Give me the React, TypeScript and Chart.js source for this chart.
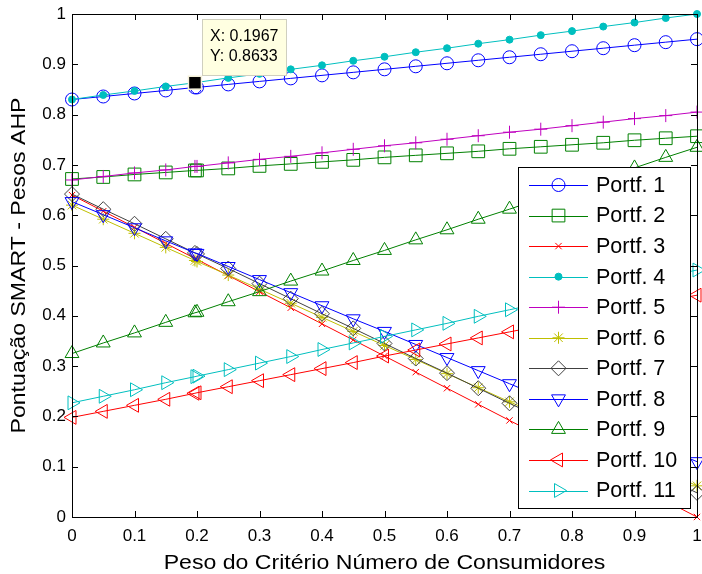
import React, { useEffect, useRef } from 'react';
import { Chart, registerables } from 'chart.js';
import { drawPoint } from 'chart.js/helpers';

Chart.register(...registerables);

// Peso do critério "Número de Consumidores" (eixo x)
const pesos = [0, 0.05, 0.1, 0.15, 0.1967, 0.2, 0.25, 0.3, 0.35, 0.4, 0.45, 0.5, 0.55, 0.6, 0.65, 0.7, 0.75, 0.8, 0.85, 0.9, 0.95, 1];

// Pontuação SMART de cada portfólio para cada peso
const portf1 = [0.830, 0.836, 0.842, 0.848, 0.854, 0.854, 0.860, 0.866, 0.872, 0.878, 0.884, 0.890, 0.896, 0.902, 0.908, 0.914, 0.920, 0.926, 0.932, 0.938, 0.944, 0.950];
const portf2 = [0.672, 0.676, 0.681, 0.685, 0.689, 0.689, 0.693, 0.698, 0.702, 0.706, 0.710, 0.715, 0.719, 0.723, 0.727, 0.732, 0.736, 0.740, 0.744, 0.749, 0.753, 0.757];
const portf3 = [0.640, 0.608, 0.576, 0.544, 0.514, 0.512, 0.480, 0.448, 0.416, 0.384, 0.352, 0.320, 0.288, 0.256, 0.224, 0.192, 0.160, 0.128, 0.096, 0.064, 0.032, 0.000];
const portf4 = [0.830, 0.839, 0.847, 0.856, 0.8633, 0.864, 0.873, 0.881, 0.890, 0.898, 0.907, 0.915, 0.924, 0.932, 0.941, 0.949, 0.958, 0.966, 0.975, 0.983, 0.992, 1.000];
const portf5 = [0.670, 0.677, 0.684, 0.690, 0.697, 0.697, 0.704, 0.711, 0.717, 0.724, 0.731, 0.738, 0.744, 0.751, 0.758, 0.765, 0.771, 0.778, 0.785, 0.792, 0.798, 0.805];
const portf6 = [0.620, 0.592, 0.564, 0.536, 0.510, 0.508, 0.481, 0.453, 0.425, 0.397, 0.369, 0.341, 0.313, 0.285, 0.257, 0.229, 0.202, 0.174, 0.146, 0.118, 0.090, 0.062];
const portf7 = [0.642, 0.612, 0.583, 0.553, 0.525, 0.523, 0.494, 0.464, 0.434, 0.404, 0.375, 0.345, 0.315, 0.286, 0.256, 0.226, 0.197, 0.167, 0.137, 0.107, 0.078, 0.048];
const portf8 = [0.627, 0.601, 0.575, 0.549, 0.525, 0.524, 0.498, 0.472, 0.446, 0.420, 0.394, 0.369, 0.343, 0.317, 0.291, 0.265, 0.239, 0.214, 0.188, 0.162, 0.136, 0.110];
const portf9 = [0.325, 0.346, 0.366, 0.387, 0.406, 0.407, 0.428, 0.448, 0.469, 0.489, 0.510, 0.530, 0.551, 0.571, 0.592, 0.612, 0.633, 0.653, 0.674, 0.694, 0.715, 0.735];
const portf10 = [0.198, 0.210, 0.222, 0.234, 0.246, 0.247, 0.259, 0.271, 0.283, 0.295, 0.307, 0.320, 0.332, 0.344, 0.356, 0.368, 0.380, 0.392, 0.405, 0.417, 0.429, 0.441];
const portf11 = [0.227, 0.240, 0.253, 0.267, 0.279, 0.280, 0.293, 0.306, 0.319, 0.333, 0.346, 0.359, 0.372, 0.385, 0.399, 0.412, 0.425, 0.438, 0.451, 0.465, 0.478, 0.491];

const nomes = ['Portf. 1', 'Portf. 2', 'Portf. 3', 'Portf. 4', 'Portf. 5', 'Portf. 6', 'Portf. 7', 'Portf. 8', 'Portf. 9', 'Portf. 10', 'Portf. 11'];
const series = [portf1, portf2, portf3, portf4, portf5, portf6, portf7, portf8, portf9, portf10, portf11];

const xTicks = [0, 0.1, 0.2, 0.3, 0.4, 0.5, 0.6, 0.7, 0.8, 0.9, 1];
const yTicks = [0, 0.1, 0.2, 0.3, 0.4, 0.5, 0.6, 0.7, 0.8, 0.9, 1];

// Cursor de dados marcado no gráfico
const cursorX = 0.1967;
const cursorY = 0.8633;

const tituloX = 'Peso do Critério Número de Consumidores';
const tituloY = 'Pontuação SMART - Pesos AHP';

type Estilo = { cor: string; forma: string; raio: number; rot: number; cheio: boolean };

const estilos: Estilo[] = [
  { cor: '#0000ff', forma: 'circle', raio: 6.5, rot: 0, cheio: false },
  { cor: '#008000', forma: 'rect', raio: 9, rot: 0, cheio: false },
  { cor: '#ff0000', forma: 'crossRot', raio: 4.5, rot: 0, cheio: false },
  { cor: '#00bfbf', forma: 'circle', raio: 3.5, rot: 0, cheio: true },
  { cor: '#bf00bf', forma: 'cross', raio: 6.5, rot: 0, cheio: false },
  { cor: '#bfbf00', forma: 'star', raio: 6, rot: 0, cheio: false },
  { cor: '#404040', forma: 'rectRot', raio: 7.5, rot: 0, cheio: false },
  { cor: '#0000ff', forma: 'triangle', raio: 8, rot: 180, cheio: false },
  { cor: '#008000', forma: 'triangle', raio: 8, rot: 0, cheio: false },
  { cor: '#ff0000', forma: 'triangle', raio: 8, rot: 270, cheio: false },
  { cor: '#00bfbf', forma: 'triangle', raio: 8, rot: 90, cheio: false },
];

const FONTE = '"Liberation Sans", Arial, Helvetica, sans-serif';

function textoEsticado(ctx: CanvasRenderingContext2D, txt: string, x: number, y: number, sx: number) {
  ctx.save();
  ctx.translate(x, y);
  ctx.scale(sx, 1);
  ctx.fillText(txt, 0, 0);
  ctx.restore();
}

function marcador(ctx: CanvasRenderingContext2D, e: Estilo, x: number, y: number) {
  ctx.save();
  ctx.strokeStyle = e.cor;
  ctx.fillStyle = e.cheio ? e.cor : 'rgba(0,0,0,0)';
  ctx.lineWidth = 1;
  drawPoint(ctx, { pointStyle: e.forma as any, rotation: e.rot, radius: e.raio, borderWidth: 1 }, x, y);
  ctx.restore();
}

const moldura = {
  id: 'moldura',
  afterDraw(chart: any) {
    const { ctx, chartArea: a, scales } = chart;
    const sx = scales.x;
    const sy = scales.y;
    ctx.save();

    // caixa dos eixos com marcas para dentro
    ctx.strokeStyle = '#000';
    ctx.lineWidth = 1;
    ctx.beginPath();
    ctx.rect(Math.round(a.left) + 0.5, Math.round(a.top) + 0.5, Math.round(a.right - a.left), Math.round(a.bottom - a.top));
    const tl = 6;
    xTicks.forEach((v) => {
      const px = Math.round(sx.getPixelForValue(v)) + 0.5;
      ctx.moveTo(px, a.bottom);
      ctx.lineTo(px, a.bottom - tl);
      ctx.moveTo(px, a.top);
      ctx.lineTo(px, a.top + tl);
    });
    yTicks.forEach((v) => {
      const py = Math.round(sy.getPixelForValue(v)) + 0.5;
      ctx.moveTo(a.left, py);
      ctx.lineTo(a.left + tl, py);
      ctx.moveTo(a.right, py);
      ctx.lineTo(a.right - tl, py);
    });
    ctx.stroke();

    // títulos dos eixos
    ctx.fillStyle = '#000';
    ctx.font = `21px ${FONTE}`;
    ctx.textAlign = 'center';
    ctx.textBaseline = 'alphabetic';
    textoEsticado(ctx, tituloX, (a.left + a.right) / 2, 569, 1.1);
    ctx.save();
    ctx.translate(25, (a.top + a.bottom) / 2);
    ctx.rotate(-Math.PI / 2);
    textoEsticado(ctx, tituloY, 0, 0, 1.1);
    ctx.restore();

    // legenda
    const lx = a.right - 179;
    const ly = a.top + 153;
    const lw = 172;
    const lh = 341;
    ctx.fillStyle = '#fff';
    ctx.fillRect(lx, ly, lw, lh);
    ctx.strokeStyle = '#000';
    ctx.strokeRect(Math.round(lx) + 0.5, Math.round(ly) + 0.5, lw, lh);
    ctx.font = `21.5px ${FONTE}`;
    ctx.textAlign = 'left';
    ctx.textBaseline = 'middle';
    nomes.forEach((nome, i) => {
      const e = estilos[i];
      const cy = ly + 18 + i * 30.55;
      ctx.strokeStyle = e.cor;
      ctx.lineWidth = 1;
      ctx.beginPath();
      ctx.moveTo(lx + 11, Math.round(cy) + 0.5);
      ctx.lineTo(lx + 70, Math.round(cy) + 0.5);
      ctx.stroke();
      marcador(ctx, e, lx + 40.5, cy);
      ctx.fillStyle = '#000';
      ctx.fillText(nome, lx + 78, cy + 1);
    });

    // cursor de dados
    const px = sx.getPixelForValue(cursorX);
    const py = sy.getPixelForValue(cursorY);
    ctx.fillStyle = '#000';
    ctx.strokeStyle = '#f4f0d8';
    ctx.lineWidth = 1.5;
    ctx.fillRect(px - 6, py - 6, 12, 12);
    ctx.strokeRect(px - 6.5, py - 6.5, 13, 13);
    const bx = Math.round(px) + 7;
    const by = Math.round(py) - 64;
    ctx.fillStyle = '#ffffe1';
    ctx.fillRect(bx, by, 84, 56);
    ctx.strokeStyle = '#cfcfbf';
    ctx.lineWidth = 1;
    ctx.strokeRect(bx + 0.5, by + 0.5, 84, 56);
    ctx.fillStyle = '#000';
    ctx.font = `16px ${FONTE}`;
    ctx.textAlign = 'left';
    ctx.textBaseline = 'alphabetic';
    ctx.fillText('X: ' + cursorX.toFixed(4), bx + 8, by + 22);
    ctx.fillText('Y: ' + cursorY.toFixed(4), bx + 8, by + 42);

    ctx.restore();
  },
};

export default function App() {
  const ref = useRef<HTMLCanvasElement>(null);

  useEffect(() => {
    const canvas = ref.current;
    if (!canvas) return;
    const datasets = series.map((valores, i) => {
      const e = estilos[i];
      return {
        label: nomes[i],
        data: pesos.map((p, j) => ({ x: p, y: valores[j] })),
        borderColor: e.cor,
        borderWidth: 1,
        backgroundColor: e.cheio ? e.cor : 'rgba(0,0,0,0)',
        pointStyle: e.forma,
        pointRadius: e.raio,
        pointRotation: e.rot,
        pointBorderColor: e.cor,
        pointBackgroundColor: e.cheio ? e.cor : 'rgba(0,0,0,0)',
        pointBorderWidth: 1,
        tension: 0,
        fill: false,
        clip: false as any,
        order: series.length - i,
      };
    });

    const chart = new Chart(canvas, {
      type: 'line',
      data: { datasets: datasets as any },
      options: {
        animation: false,
        responsive: false,
        devicePixelRatio: 1,
        events: [],
        layout: { autoPadding: false, padding: { left: 0, right: 5, top: 14, bottom: 0 } },
        plugins: { legend: { display: false }, tooltip: { enabled: false } },
        scales: {
          x: {
            type: 'linear',
            min: 0,
            max: 1,
            grid: { display: false, drawTicks: false },
            border: { display: false },
            afterBuildTicks: (s: any) => {
              s.ticks = xTicks.map((v) => ({ value: v }));
            },
            afterFit: (s: any) => {
              s.height = 57;
              s.paddingLeft = 0;
              s.paddingRight = 0;
            },
            ticks: {
              autoSkip: false,
              maxRotation: 0,
              padding: 9,
              color: '#000',
              font: { family: FONTE, size: 17 },
              callback: (v: any) => String(v),
            },
          },
          y: {
            type: 'linear',
            min: 0,
            max: 1,
            grid: { display: false, drawTicks: false },
            border: { display: false },
            afterBuildTicks: (s: any) => {
              s.ticks = yTicks.map((v) => ({ value: v }));
            },
            afterFit: (s: any) => {
              s.width = 72;
              s.paddingTop = 0;
              s.paddingBottom = 0;
            },
            ticks: {
              autoSkip: false,
              padding: 6,
              color: '#000',
              font: { family: FONTE, size: 17 },
              callback: (v: any) => String(v),
            },
          },
        },
      },
      plugins: [moldura],
    });
    return () => chart.destroy();
  }, []);

  return (
    <div style={{ position: 'fixed', left: 0, top: 0, width: 702, height: 574, background: '#fff' }}>
      <canvas ref={ref} width={702} height={574} style={{ display: 'block', width: 702, height: 574 }} />
    </div>
  );
}
